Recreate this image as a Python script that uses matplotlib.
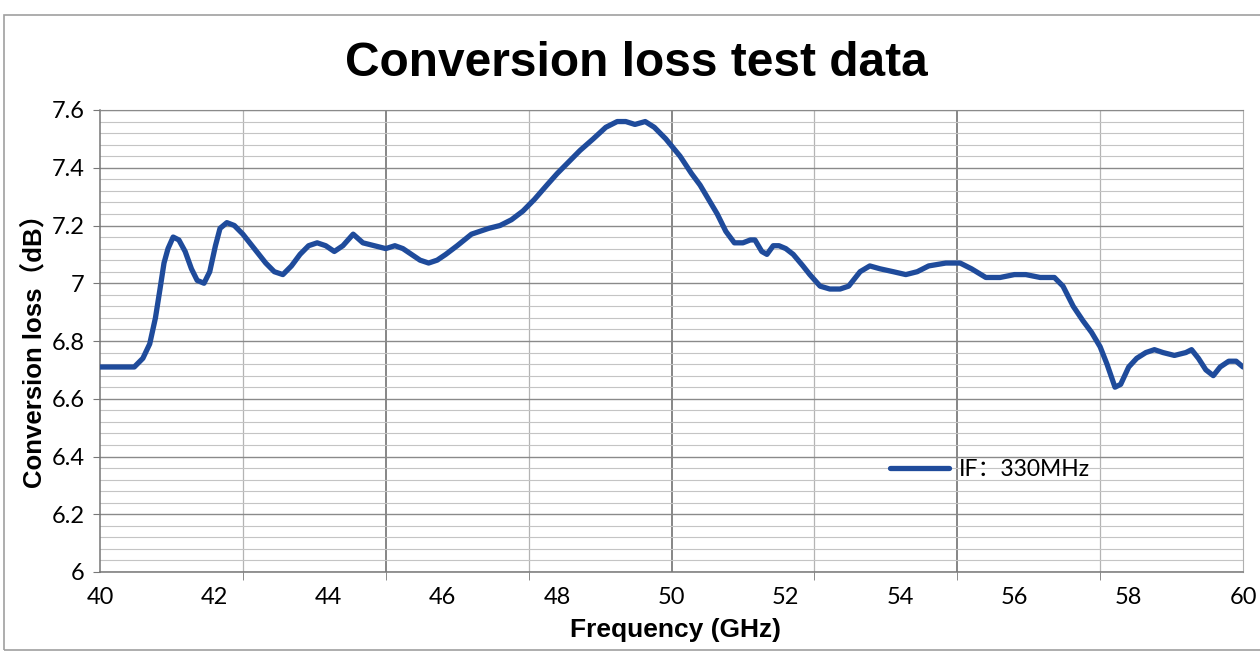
import matplotlib
matplotlib.use("Agg")
import matplotlib.pyplot as plt
from matplotlib.patches import Rectangle
from matplotlib.font_manager import FontProperties
from matplotlib.ticker import MultipleLocator, FixedLocator, NullFormatter

freq_ghz = [40.0, 40.3, 40.6, 40.75, 40.87, 40.97, 41.05, 41.12, 41.19, 41.28, 41.38, 41.49,
            41.6, 41.7, 41.82, 41.92, 42.02, 42.1, 42.22, 42.35, 42.5, 42.7, 42.9, 43.05,
            43.2, 43.35, 43.5, 43.65, 43.8, 43.95, 44.1, 44.25, 44.43, 44.6, 44.8, 45.0,
            45.16, 45.3, 45.45, 45.6, 45.75, 45.9, 46.05, 46.25, 46.5, 46.8, 47.0, 47.2,
            47.4, 47.6, 47.82, 48.0, 48.2, 48.4, 48.63, 48.85, 49.05, 49.2, 49.36, 49.54,
            49.7, 49.9, 50.15, 50.35, 50.5, 50.65, 50.8, 50.95, 51.1, 51.25, 51.38, 51.46,
            51.58, 51.67, 51.78, 51.88, 52.0, 52.13, 52.3, 52.42, 52.6, 52.77, 52.95, 53.1,
            53.3, 53.47, 53.65, 53.88, 54.1, 54.3, 54.5, 54.8, 55.05, 55.25, 55.5, 55.75,
            56.0, 56.2, 56.45, 56.7, 56.85, 57.03, 57.2, 57.35, 57.5, 57.62, 57.76, 57.86,
            58.0, 58.14, 58.3, 58.45, 58.6, 58.8, 59.0, 59.1, 59.22, 59.35, 59.48, 59.6,
            59.75, 59.88, 60.0]
loss_db = [6.71, 6.71, 6.71, 6.74, 6.79, 6.88, 6.98, 7.07, 7.12, 7.16, 7.15, 7.11,
           7.05, 7.01, 7.00, 7.04, 7.13, 7.19, 7.21, 7.20, 7.17, 7.12, 7.07, 7.04,
           7.03, 7.06, 7.10, 7.13, 7.14, 7.13, 7.11, 7.13, 7.17, 7.14, 7.13, 7.12,
           7.13, 7.12, 7.10, 7.08, 7.07, 7.08, 7.10, 7.13, 7.17, 7.19, 7.20, 7.22,
           7.25, 7.29, 7.34, 7.38, 7.42, 7.46, 7.50, 7.54, 7.56, 7.56, 7.55, 7.56,
           7.54, 7.50, 7.44, 7.38, 7.34, 7.29, 7.24, 7.18, 7.14, 7.14, 7.15, 7.15,
           7.11, 7.10, 7.13, 7.13, 7.12, 7.10, 7.06, 7.03, 6.99, 6.98, 6.98, 6.99,
           7.04, 7.06, 7.05, 7.04, 7.03, 7.04, 7.06, 7.07, 7.07, 7.05, 7.02, 7.02,
           7.03, 7.03, 7.02, 7.02, 6.99, 6.92, 6.87, 6.83, 6.78, 6.72, 6.64, 6.65,
           6.71, 6.74, 6.76, 6.77, 6.76, 6.75, 6.76, 6.77, 6.74, 6.70, 6.68, 6.71,
           6.73, 6.73, 6.71]

x_tick_values = [40, 42, 44, 46, 48, 50, 52, 54, 56, 58, 60]
y_tick_values = [6.0, 6.2, 6.4, 6.6, 6.8, 7.0, 7.2, 7.4, 7.6]
y_tick_labels = ["6", "6.2", "6.4", "6.6", "6.8", "7", "7.2", "7.4", "7.6"]
series_label = "IF：330MHz"
title_text = "Conversion loss test data"
x_label = "Frequency (GHz)"
y_label = "Conversion loss（dB）"

fig = plt.figure(figsize=(12.6, 6.53), dpi=100)
ax = fig.add_axes([100/1260, 81/653, 1143/1260, 462/653])

ax.set_xlim(40, 60)
ax.set_ylim(6.0, 7.6)

# grid
ax.yaxis.set_major_locator(FixedLocator(y_tick_values))
ax.yaxis.set_minor_locator(MultipleLocator(0.04))
ax.grid(which="major", axis="y", color="#8a8a8a", linewidth=1.0)
ax.grid(which="minor", axis="y", color="#c4c4c4", linewidth=0.8)
for xv in [42.5, 47.5, 52.5, 57.5]:
    ax.axvline(xv, color="#b4b4b4", linewidth=0.9, zorder=0.5)
for xv in [45, 50, 55]:
    ax.axvline(xv, color="#666666", linewidth=1.1, zorder=0.5)
ax.set_axisbelow(True)

# ticks
ax.set_xticks(x_tick_values)
ax.set_xticklabels([str(v) for v in x_tick_values])
ax.tick_params(axis="x", which="major", length=0, pad=11)
ax.set_xticks([40, 42.5, 45, 47.5, 50, 52.5, 55, 57.5, 60], minor=True)
ax.xaxis.set_minor_formatter(NullFormatter())
ax.tick_params(axis="x", which="minor", length=6, color="#777777", direction="out")
ax.set_yticklabels(y_tick_labels)
ax.tick_params(axis="y", which="major", length=5, color="#777777", pad=6)
ax.tick_params(axis="y", which="minor", length=0)

tick_font = FontProperties(family=["Lato", "DejaVu Sans"], size=17)
for lab in ax.get_xticklabels() + ax.get_yticklabels():
    lab.set_fontproperties(tick_font)

for side in ["left", "bottom"]:
    ax.spines[side].set_color("#777777")
    ax.spines[side].set_linewidth(1.1)
ax.spines["top"].set_color("#8a8a8a")
ax.spines["right"].set_color("#b0b0b0")

ax.plot(freq_ghz, loss_db, color="#1f4b9b", linewidth=3.8, solid_joinstyle="round",
        solid_capstyle="round", label=series_label, zorder=3)

leg_font = FontProperties(family=["Lato", "Noto Sans CJK SC"], size=16.5)
ax.legend(loc="center left", bbox_to_anchor=(0.691, 0.221), frameon=False,
          borderaxespad=0, borderpad=0, handlelength=2.6, handletextpad=0.4,
          prop=leg_font)

fig.text(636/1260, 1 - 63/653, title_text, ha="center", va="center",
         fontsize=34.5, fontweight="bold", family=["Liberation Sans", "DejaVu Sans"])
fig.text(675/1260, 1 - 630/653, x_label, ha="center", va="center",
         fontsize=19, fontweight="bold", family=["Liberation Sans", "DejaVu Sans"])
fig.text(34/1260, 1 - 345/653, y_label, ha="center", va="center", rotation=90,
         fontsize=18.5, fontweight="bold",
         family=["Liberation Sans", "Noto Sans CJK SC"])

fig.add_artist(Rectangle((4/1260, 3/653), 1.2, 1 - 15/653 - 3/653,
                         transform=fig.transFigure, fill=False,
                         edgecolor="#a0a0a0", linewidth=1.2))

fig.savefig("out.png", dpi=100, facecolor="white")
